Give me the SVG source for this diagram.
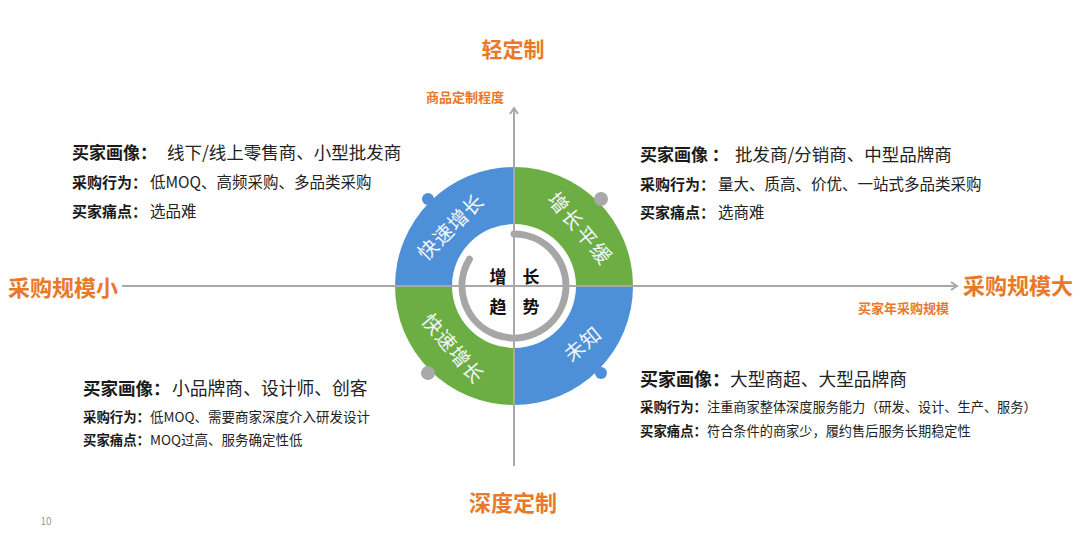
<svg xmlns="http://www.w3.org/2000/svg" width="1080" height="537" viewBox="0 0 1080 537">
<defs>
<style>
.t{font-family:"Noto Sans CJK SC","Microsoft YaHei",sans-serif;}
.org{fill:#e8792a;font-weight:bold;}
.lbl{fill:#1a1a1a;font-weight:bold;}
.val{fill:#222;}
.ring{fill:#f2f6fb;font-size:20px;text-anchor:middle;dominant-baseline:central;}
.ctr{fill:#111;font-weight:bold;font-size:17px;text-anchor:middle;dominant-baseline:central;}
.axis{stroke:#a8a8a8;stroke-width:2;fill:none;}
.blue{fill:#4d90d8;}
.green{fill:#6cad44;}
</style>
<marker id="arr" markerWidth="10" markerHeight="10" refX="7" refY="5" orient="auto" markerUnits="userSpaceOnUse">
<path d="M1,1 L7,5 L1,9" fill="none" stroke="#a8a8a8" stroke-width="2"/>
</marker>
</defs>
<rect width="1080" height="537" fill="#ffffff"/>

<g id="ring">
<path class="blue" d="M395,286 A119,119 0 0 1 514,167 L514,224 A62,62 0 0 0 452,286 Z"/>
<path class="green" d="M514,167 A119,119 0 0 1 633,286 L576,286 A62,62 0 0 0 514,224 Z"/>
<path class="blue" d="M633,286 A119,119 0 0 1 514,405 L514,348 A62,62 0 0 0 576,286 Z"/>
<path class="green" d="M514,405 A119,119 0 0 1 395,286 L452,286 A62,62 0 0 0 514,348 Z"/>
<circle class="blue" cx="428" cy="199" r="6"/>
<circle cx="601" cy="199" r="7" fill="#a9a9a9"/>
<circle cx="428" cy="373" r="7" fill="#a9a9a9"/>
<circle class="blue" cx="601" cy="373" r="6"/>
<path d="M514,234 A52,52 0 1 1 469.4,259.2" fill="none" stroke="#a6a6a6" stroke-width="7" stroke-linecap="round"/>
<text class="t ring" transform="translate(450,226) rotate(-45)" letter-spacing="1">快速增长</text>
<text class="t ring" transform="translate(581,228) rotate(50)" letter-spacing="2">增长平缓</text>
<text class="t ring" transform="translate(454,348) rotate(50)" letter-spacing="1">快速增长</text>
<text class="t ring" transform="translate(582,343) rotate(-40)" letter-spacing="1">未知</text>
</g>

<g id="connectors">
<line class="axis" x1="122" y1="286" x2="957" y2="286" marker-end="url(#arr)"/>
<line class="axis" x1="514" y1="466" x2="514" y2="108" marker-end="url(#arr)"/>
</g>

<g id="center">
<text class="t ctr" x="498" y="275">增</text>
<text class="t ctr" x="531" y="275">长</text>
<text class="t ctr" x="498" y="305">趋</text>
<text class="t ctr" x="531" y="305">势</text>
</g>

<g id="axis-labels">
<text class="t org" x="513" y="57" font-size="21" text-anchor="middle">轻定制</text>
<text class="t org" x="465" y="102" font-size="13" text-anchor="middle">商品定制程度</text>
<text class="t org" x="8" y="296" font-size="22">采购规模小</text>
<text class="t org" x="963" y="294" font-size="22">采购规模大</text>
<text class="t org" x="858" y="313" font-size="13">买家年采购规模</text>
<text class="t org" x="513" y="511" font-size="22" text-anchor="middle">深度定制</text>
</g>

<g id="top-left-info">
<text class="t lbl" x="72" y="159" font-size="17">买家画像：</text>
<text class="t val" x="167" y="159" font-size="17.5">线下/线上零售商、小型批发商</text>
<text class="t lbl" x="72" y="188" font-size="15">采购行为：</text>
<text class="t val" x="150" y="188" font-size="15.5">低MOQ、高频采购、多品类采购</text>
<text class="t lbl" x="72" y="217" font-size="15">买家痛点：</text>
<text class="t val" x="150" y="217" font-size="15.5">选品难</text>
</g>

<g id="top-right-info">
<text class="t lbl" x="640" y="161" font-size="17">买家画像 ：</text>
<text class="t val" x="735" y="161" font-size="17.5">批发商/分销商、中型品牌商</text>
<text class="t lbl" x="640" y="190" font-size="15">采购行为：</text>
<text class="t val" x="718" y="190" font-size="15.5">量大、质高、价优、一站式多品类采购</text>
<text class="t lbl" x="640" y="218" font-size="15">买家痛点：</text>
<text class="t val" x="718" y="218" font-size="15.5">选商难</text>
</g>

<g id="bottom-left-info">
<text class="t lbl" x="83" y="395" font-size="17.5">买家画像：</text>
<text class="t val" x="172" y="395" font-size="17.8">小品牌商、设计师、创客</text>
<text class="t lbl" x="83" y="422" font-size="13.4">采购行为：</text>
<text class="t val" x="150" y="422" font-size="13.5">低MOQ、需要商家深度介入研发设计</text>
<text class="t lbl" x="83" y="445" font-size="13.4">买家痛点：</text>
<text class="t val" x="150" y="445" font-size="13.5">MOQ过高、服务确定性低</text>
</g>

<g id="bottom-right-info">
<text class="t lbl" x="640" y="386" font-size="18">买家画像：</text>
<text class="t val" x="730" y="386" font-size="17.7">大型商超、大型品牌商</text>
<text class="t lbl" x="640" y="412" font-size="13.4">采购行为：</text>
<text class="t val" x="707" y="412" font-size="13.2">注重商家整体深度服务能力（研发、设计、生产、服务）</text>
<text class="t lbl" x="640" y="436" font-size="13.4">买家痛点：</text>
<text class="t val" x="707" y="436" font-size="13.2">符合条件的商家少，履约售后服务长期稳定性</text>
</g>

<text class="t" x="46" y="525" font-size="10" fill="#999" text-anchor="middle">10</text>
</svg>
